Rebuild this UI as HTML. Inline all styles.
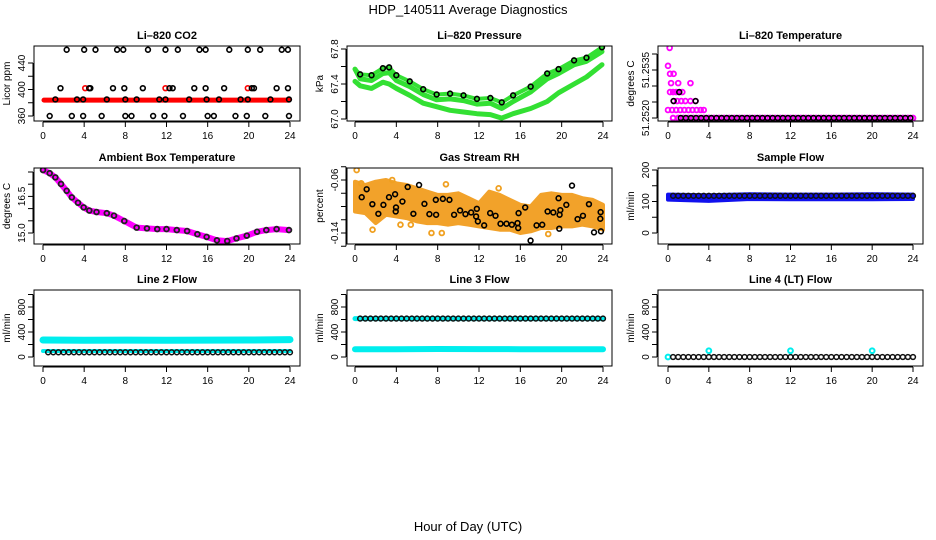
<!DOCTYPE html>
<html><head><meta charset="utf-8"><title>HDP_140511 Average Diagnostics</title>
<style>
html,body{margin:0;padding:0;background:#fff;}
svg{display:block;font-family:"Liberation Sans",sans-serif;}
</style></head>
<body>
<svg id="chart" width="936" height="540" viewBox="0 0 936 540" xmlns="http://www.w3.org/2000/svg">
<text x="468" y="14" text-anchor="middle" font-size="13">HDP_140511  Average Diagnostics</text>
<text x="468" y="531" text-anchor="middle" font-size="13">Hour of Day (UTC)</text>
</svg>
<script>
// ---------- data ----------
const xTicks = [0,4,8,12,16,20,24];
const halfHours = [0.5,1,1.5,2,2.5,3,3.5,4,4.5,5,5.5,6,6.5,7,7.5,8,8.5,9,9.5,10,10.5,11,11.5,12,12.5,13,13.5,14,14.5,15,15.5,16,16.5,17,17.5,18,18.5,19,19.5,20,20.5,21,21.5,22,22.5,23,23.5,24];

// CO2
const co2HighHours = [2.3,4.0,5.1,7.2,7.8,10.2,11.9,13.1,15.2,15.8,18.1,19.9,21.1,23.2,23.8];
const co2MidHours = [1.7,4.6,6.8,7.9,9.7,12.6,14.7,15.8,17.6,20.5,22.7,23.8];
const co2MidRedHours = [4.1,11.9,19.9];
const co2LowHours = [1.2,3.3,3.9,6.2,8.0,9.1,11.3,11.9,14.2,15.9,17.1,19.2,19.9,22.1,23.9];
const co2MinHours = [0.65,2.8,3.9,5.7,8.0,8.6,10.7,11.8,13.6,16.0,16.6,18.7,19.8,21.6,23.9];
const co2Levels = [460,402,385,360];
const co2RedBand = [384,384];

// Pressure
const presHours = [0,0.5,1.6,2.7,3.3,4,5.3,6.6,7.9,9.2,10.5,11.8,13.1,14.2,15.3,17,18.6,19.7,21.2,22.4,23.9];
const presA = [67.57,67.51,67.50,67.58,67.59,67.50,67.43,67.34,67.28,67.29,67.27,67.23,67.24,67.19,67.27,67.37,67.52,67.57,67.67,67.70,67.82];
const presB = [67.57,67.46,67.44,67.52,67.53,67.44,67.37,67.28,67.22,67.23,67.21,67.17,67.18,67.12,67.20,67.31,67.46,67.52,67.62,67.66,67.77];
const presC = [67.43,67.38,67.35,67.42,67.40,67.35,67.27,67.18,67.14,67.10,67.08,67.06,67.05,67.01,67.06,67.12,67.20,67.30,67.40,67.48,67.62];

// Li-820 temperature
const tempMagHours = [0.16,0,0.2,0.55,0.3,1.0,2.2,0.2,0.5,0.8,1.1,1.4,0.55,0.9,1.3,1.7,2.2,2.7,0,0.4,0.8,1.2,1.6,2.0,2.4,2.8,3.2,3.5];
const tempMagVals = [51.25419,51.25363,51.25338,51.25338,51.25309,51.25309,51.25309,51.25281,51.25281,51.25281,51.25281,51.25281,51.25253,51.25253,51.25253,51.25253,51.25253,51.25253,51.25225,51.25225,51.25225,51.25225,51.25225,51.25225,51.25225,51.25225,51.25225,51.25225];
const tempBlackHours = [1.1,0.55,2.7];
const tempBlackVals = [51.25281,51.25253,51.25253];
const tempBase = 51.2520;

// Ambient box temperature
const ambHours = [0,0.65,1.2,1.75,2.3,2.8,3.4,3.95,4.5,5.2,6.2,6.9,7.9,9.1,10.1,11.1,12,13,14,15,15.9,16.9,17.9,18.8,19.8,20.8,21.7,22.7,23.9];
const ambVals = [17.58,17.45,17.28,17.01,16.73,16.46,16.24,16.05,15.92,15.86,15.81,15.71,15.49,15.22,15.19,15.16,15.16,15.12,15.08,14.95,14.84,14.70,14.67,14.78,14.89,15.05,15.12,15.16,15.12];

// Gas stream RH
const rhBandHours = [0,1,2,3,4,5,6,7,8,9,10,11,12,13,14,15,16,17,18,19,20,21,22,23,24];
const rhBandHi = [-0.0625,-0.0675,-0.0625,-0.06,-0.065,-0.0675,-0.0725,-0.0775,-0.0825,-0.0825,-0.08,-0.0875,-0.095,-0.0775,-0.0825,-0.09,-0.0975,-0.1,-0.0825,-0.08,-0.0825,-0.0825,-0.0875,-0.09,-0.0975];
const rhBandLo = [-0.1075,-0.11,-0.125,-0.1125,-0.115,-0.1175,-0.1225,-0.125,-0.125,-0.1275,-0.125,-0.1275,-0.13,-0.1325,-0.135,-0.135,-0.14,-0.1375,-0.1325,-0.1325,-0.13,-0.13,-0.1275,-0.13,-0.135];
const rhOutHours = [0.16,1.7,4.4,5.4,7.4,8.4,8.8,13.9,18.7,3.6,0.6];
const rhOutVals = [-0.045,-0.135,-0.1275,-0.1275,-0.14,-0.14,-0.0665,-0.0725,-0.1415,-0.06,-0.065];
const rhBlackHours = [0.65,1.13,1.68,2.26,2.75,3.29,3.88,3.97,3.94,4.59,5.10,5.65,6.2,6.72,7.2,7.85,7.82,8.5,9.14,9.59,10.17,10.69,11.24,11.79,11.72,11.89,12.5,13.08,13.6,14.08,14.66,15.18,15.83,15.73,15.79,16.47,16.99,17.57,18.12,18.64,19.19,19.7,19.8,19.87,19.77,20.45,21,21.54,22.06,22.64,23.13,23.77,23.74,23.8];
const rhBlackVals = [-0.086,-0.074,-0.0965,-0.111,-0.0975,-0.086,-0.0815,-0.1015,-0.1075,-0.0925,-0.0705,-0.111,-0.0675,-0.096,-0.1115,-0.1125,-0.09,-0.0885,-0.09,-0.1125,-0.106,-0.1115,-0.109,-0.1035,-0.115,-0.1225,-0.1285,-0.11,-0.114,-0.126,-0.126,-0.1275,-0.11,-0.125,-0.1325,-0.1015,-0.1515,-0.1285,-0.1275,-0.1075,-0.109,-0.0875,-0.1125,-0.1055,-0.1335,-0.0975,-0.0685,-0.119,-0.114,-0.0965,-0.139,-0.1085,-0.1185,-0.1375];

// Flows
const sampleBandLo = [106,102,108,107,107,107,108];
const sampleBandHi = [122,120,123,122,122,123,122];
const bandHours = [0,4,8,12,16,20,24];
const sampleBlack = 118;
const line2Band = [272,268,270,268,270,272,278];
const line2Low = [96,96,96,96,96,96,96];
const line2Black = 75;
const line3Band = [123,125,128,126,125,125,124];
const line3Top = 615;
const line4Base = 0;
const line4SpikeHours = [4,12,20];
const line4SpikeVals = [100,100,100];

// ---------- drawing helpers ----------
const svg = document.getElementById('chart');
const NS = 'http://www.w3.org/2000/svg';
function mk(tag, attrs, parent){
  const e = document.createElementNS(NS, tag);
  for (const k in attrs) e.setAttribute(k, attrs[k]);
  (parent||svg).appendChild(e);
  return e;
}
const cols = [{bx:34,bw:266,x0:43,x1:290},{bx:347,bw:265,x0:355,x1:603},{bx:658,bw:265,x0:668,x1:913}];
const rows = [{by:46,bh:75},{by:168,bh:76},{by:290,bh:76}];

function panel(name, title, ytitle, c, r, v1, y1, v2, y2, yticks, ylabels){
  const C = cols[c], R = rows[r];
  const g = mk('g', {});
  
  
  const sx = h => C.x0 + (C.x1 - C.x0) * h / 24;
  const sy = v => y1 + (v - v1) * (y2 - y1) / (v2 - v1);
  const t = mk('text', {x: C.bx + C.bw/2, y: R.by - 7, 'text-anchor':'middle', 'font-size':'11', 'font-weight':'bold'}, g);
  t.textContent = title;
  
  
  const xa = mk('g', {}, g);
  
  
  const yb = R.by + R.bh;
  mk('line', {x1: sx(0), x2: sx(24), y1: yb + 1, y2: yb + 1, stroke:'#000', 'stroke-width':1}, xa);
  xTicks.forEach(h => {
    mk('line', {x1: sx(h), x2: sx(h), y1: yb + 1, y2: yb + 6, stroke:'#000', 'stroke-width':1}, xa);
    const l = mk('text', {x: sx(h), y: yb + 18, 'text-anchor':'middle', 'font-size':'10'}, xa);
    l.textContent = h;
  });
  const ya = mk('g', {}, g);
  
  
  const ys = yticks.map(sy);
  mk('line', {x1: C.bx - 1, x2: C.bx - 1, y1: Math.min(...ys), y2: Math.max(...ys), stroke:'#000', 'stroke-width':1}, ya);
  yticks.forEach((v, i) => {
    mk('line', {x1: C.bx - 6, x2: C.bx - 1, y1: sy(v), y2: sy(v), stroke:'#000', 'stroke-width':1}, ya);
    if (ylabels[i] !== '') {
      const l = mk('text', {x: C.bx - 9, y: sy(v), 'text-anchor':'middle', 'font-size':'10', transform:`rotate(-90 ${C.bx - 9} ${sy(v)})`}, ya);
      l.textContent = ylabels[i];
    }
  });
  const yt = mk('text', {x: C.bx - 24, y: R.by + R.bh/2, 'text-anchor':'middle', 'font-size':'10', transform:`rotate(-90 ${C.bx - 24} ${R.by + R.bh/2})`}, g);
  yt.textContent = ytitle;
  
  
  const clipId = 'clip-' + name;
  const cp = mk('clipPath', {id: clipId}, g);
  mk('rect', {x: C.bx, y: R.by, width: C.bw, height: R.bh}, cp);
  const plot = mk('g', {'clip-path': `url(#${clipId})`}, g);
  
  
  const box = mk('rect', {x: C.bx, y: R.by, width: C.bw, height: R.bh, fill:'none', stroke:'#000', 'stroke-width':1}, g);
  
  
  return {sx, sy, plot};
}
function pt(p, x, y, color, nm, sw, rr){
  const c = mk('circle', {cx: x, cy: y, r: rr || 2.4, fill: 'none', stroke: color, 'stroke-width': sw || 1.6}, p);
  
  
  return c;
}
function band(p, P, hs, lo, hi, color, nm){
  let d = '';
  hs.forEach((h, i) => { d += (i ? 'L' : 'M') + P.sx(h).toFixed(1) + ',' + P.sy(hi[i]).toFixed(1); });
  for (let i = hs.length - 1; i >= 0; i--) d += 'L' + P.sx(hs[i]).toFixed(1) + ',' + P.sy(lo[i]).toFixed(1);
  const e = mk('path', {d: d + 'Z', fill: color, stroke: color, 'stroke-width': 4, 'stroke-linejoin':'round'}, p);
  
  
}
function thickLine(p, P, hs, vs, color, w, nm){
  const e = mk('polyline', {points: hs.map((h, i) => P.sx(h).toFixed(1) + ',' + P.sy(vs[i]).toFixed(1)).join(' '), fill:'none', stroke: color, 'stroke-width': w, 'stroke-linejoin':'round', 'stroke-linecap':'round'}, p);
  
  
}

// ---------- CO2 ----------
let P = panel('co2-panel', 'Li\u2013820 CO2', 'Licor ppm', 0, 0, 360, 116, 440, 63, [360,380,400,420,440], ['360','','400','','440']);
thickLine(P.plot, P, [0.1, 23.9], co2RedBand, '#ff0000', 5, 'co2-red-series');
[[co2HighHours, co2Levels[0]], [co2MidHours, co2Levels[1]], [co2LowHours, co2Levels[2]], [co2MinHours, co2Levels[3]]].forEach(([hs, v]) => {
  hs.forEach(h => pt(P.plot, P.sx(h), P.sy(v), '#000', 'co2-point'));
});
co2MidRedHours.forEach(h => { pt(P.plot, P.sx(h), P.sy(co2Levels[1]), '#ff0000', 'co2-red-point'); pt(P.plot, P.sx(h) + 4, P.sy(co2Levels[1]), '#000', 'co2-point'); });

// ---------- Pressure ----------
P = panel('pressure-panel', 'Li\u2013820 Pressure', 'kPa', 1, 0, 67.0, 119, 67.8, 49, [67.0,67.2,67.4,67.6,67.8], ['67.0','','67.4','','67.8']);
thickLine(P.plot, P, presHours, presC, '#33e033', 5, 'pressure-green-low');
thickLine(P.plot, P, presHours, presB, '#33e033', 5, 'pressure-green-mid');
thickLine(P.plot, P, presHours, presA, '#33e033', 4, 'pressure-green-top');
presHours.forEach((h, i) => { if (i) pt(P.plot, P.sx(h), P.sy(presA[i]), '#000', 'pressure-point'); });

// ---------- Li-820 temperature ----------
P = panel('li820-temp-panel', 'Li\u2013820 Temperature', 'degrees C', 2, 0, 51.2520, 118, 51.2535, 70, [51.2520,51.2525,51.2530,51.2535,51.2540], ['51.2520','','','51.2535','']);
halfHours.forEach(h => pt(P.plot, P.sx(h), P.sy(tempBase), '#ff00ff', 'temp-base-magenta', 2));
halfHours.forEach(h => { if (h >= 1.5) pt(P.plot, P.sx(h - 0.25), P.sy(tempBase), '#000', 'temp-base-point'); });
tempMagHours.forEach((h, i) => pt(P.plot, P.sx(h), P.sy(tempMagVals[i]), '#ff00ff', 'temp-magenta-point', 1.8));
tempBlackHours.forEach((h, i) => pt(P.plot, P.sx(h), P.sy(tempBlackVals[i]), '#000', 'temp-point'));

// ---------- Ambient ----------
P = panel('ambient-temp-panel', 'Ambient Box Temperature', 'degrees C', 0, 1, 15.0, 233, 16.5, 196.4, [15.0,15.5,16.0,16.5,17.0,17.5], ['15.0','','','16.5','','']);
thickLine(P.plot, P, ambHours, ambVals, '#ff00ff', 6, 'ambient-magenta-series');
ambHours.forEach((h, i) => pt(P.plot, P.sx(h), P.sy(ambVals[i]), '#222', 'ambient-point', 1.8));

// ---------- RH ----------
P = panel('gas-rh-panel', 'Gas Stream RH', 'percent', 1, 1, -0.06, 180, -0.14, 233, [-0.04,-0.06,-0.08,-0.10,-0.12,-0.14,-0.16], ['','-0.06','','','','-0.14','']);
band(P.plot, P, rhBandHours, rhBandLo, rhBandHi, '#f2a22a', 'rh-orange-cloud');
rhOutHours.forEach((h, i) => pt(P.plot, P.sx(h), P.sy(rhOutVals[i]), '#f0a020', 'rh-orange-point', 1.8));
rhBlackHours.forEach((h, i) => pt(P.plot, P.sx(h), P.sy(rhBlackVals[i]), '#000', 'rh-point'));

// ---------- Sample flow ----------
P = panel('sample-flow-panel', 'Sample Flow', 'ml/min', 2, 1, 0, 233, 200, 170, [0,50,100,150,200], ['0','','100','','200']);
band(P.plot, P, bandHours, sampleBandLo, sampleBandHi, '#1010ee', 'sample-flow-blue-band');
halfHours.forEach(h => pt(P.plot, P.sx(h), P.sy(sampleBlack), '#111', 'sample-flow-point', 1.5));

// ---------- Line 2 ----------
P = panel('line2-flow-panel', 'Line 2 Flow', 'ml/min', 0, 2, 0, 357, 800, 307, [0,200,400,600,800,1000], ['0','','400','','800','']);
thickLine(P.plot, P, bandHours, line2Band, '#00eeee', 7, 'line2-cyan-high');
thickLine(P.plot, P, bandHours, line2Low, '#00eeee', 4, 'line2-cyan-low');
halfHours.forEach(h => pt(P.plot, P.sx(h), P.sy(line2Black), '#111', 'line2-point', 1.5));

// ---------- Line 3 ----------
P = panel('line3-flow-panel', 'Line 3 Flow', 'ml/min', 1, 2, 0, 357, 800, 307, [0,200,400,600,800,1000], ['0','','400','','800','']);
thickLine(P.plot, P, bandHours, line3Band, '#00eeee', 6, 'line3-cyan-low');
thickLine(P.plot, P, [0, 24], [line3Top, line3Top], '#00eeee', 5, 'line3-cyan-high');
halfHours.forEach(h => pt(P.plot, P.sx(h), P.sy(line3Top), '#111', 'line3-point', 1.5));

// ---------- Line 4 ----------
P = panel('line4-flow-panel', 'Line 4 (LT) Flow', 'ml/min', 2, 2, 0, 357, 800, 307, [0,200,400,600,800,1000], ['0','','400','','800','']);
pt(P.plot, P.sx(0), P.sy(line4Base), '#00eeee', 'line4-cyan-point', 2);
halfHours.forEach(h => pt(P.plot, P.sx(h), P.sy(line4Base), '#111', 'line4-point', 1.5));
line4SpikeHours.forEach((h, i) => pt(P.plot, P.sx(h), P.sy(line4SpikeVals[i]), '#00eeee', 'line4-cyan-spike', 2));
</script>
</body></html>
